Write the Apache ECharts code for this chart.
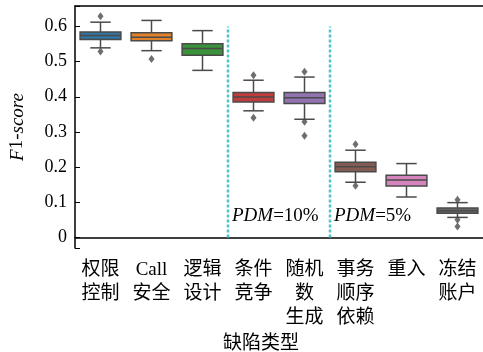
<!DOCTYPE html>
<html>
<head>
<meta charset="utf-8">
<script src="https://cdn.jsdelivr.net/npm/echarts@6/dist/echarts.min.js"></script>
<style>
  html, body { margin: 0; padding: 0; background: #fff; }
  #chart { width: 483px; height: 352px; }
</style>
</head>
<body>
<div id="chart"></div>
<script>
// Defect types on the x axis
const categories = ['权限\n控制', 'Call\n安全', '逻辑\n设计', '条件\n竞争', '随机\n数\n生成', '事务\n顺序\n依赖', '重入', '冻结\n账户'];

// Box statistics of the F1-score per defect type
const whiskerLow  = [0.539, 0.531, 0.475, 0.360, 0.336, 0.157, 0.115, 0.057];
const q1          = [0.563, 0.559, 0.518, 0.385, 0.381, 0.187, 0.146, 0.069];
const median      = [0.574, 0.569, 0.537, 0.399, 0.397, 0.201, 0.163, 0.076];
const q3          = [0.584, 0.582, 0.551, 0.412, 0.412, 0.214, 0.177, 0.084];
const whiskerHigh = [0.612, 0.617, 0.588, 0.447, 0.456, 0.248, 0.210, 0.099];

// Outlying runs: [category index, F1-score]
const outliers = [
  [0, 0.629], [0, 0.529],
  [1, 0.507],
  [3, 0.461], [3, 0.340],
  [4, 0.471], [4, 0.329], [4, 0.289],
  [5, 0.265], [5, 0.147],
  [7, 0.107], [7, 0.050], [7, 0.031]
];

// Group separators and their annotations
const dividers = [2.5, 4.5];
const dividerSpan = [0, 0.6];
const groupNotes = [
  { at: 2.5, y: 0.062, rate: '10%' },
  { at: 4.5, y: 0.062, rate: '5%' }
];

const yTicks = [0, 0.1, 0.2, 0.3, 0.4, 0.5, 0.6];

const boxColors = ['#3274a1', '#e1812c', '#3a923a', '#c03d3e', '#9372b2', '#845b53', '#d684bd', '#666666'];
const edge = '#4a4a4a';
const serif = '"Liberation Serif", "Noto Sans CJK SC", serif';

const boxData = categories.map((c, i) => [i, whiskerLow[i], q1[i], median[i], q3[i], whiskerHigh[i]]);

const chart = echarts.init(document.getElementById('chart'), null, { renderer: 'canvas' });

chart.setOption({
  animation: false,
  backgroundColor: '#fff',
  grid: { left: 69, top: 6, right: -2, bottom: 104 },
  title: {
    text: '缺陷类型',
    left: 218, top: 330,
    textStyle: { fontFamily: serif, fontSize: 19, fontWeight: 'normal', color: '#000' }
  },
  xAxis: [
    {
      type: 'category',
      data: categories,
      boundaryGap: true,
      axisLine: { lineStyle: { color: '#000', width: 1.5 } },
      axisTick: { inside: true, length: 4, alignWithLabel: true, lineStyle: { color: '#000', width: 1 } },
      axisLabel: { interval: 0, margin: 10, fontFamily: serif, fontSize: 19, lineHeight: 24, color: '#000' },
      splitLine: { show: false }
    },
    {
      type: 'value',
      position: 'top',
      min: -0.5, max: 7.5,
      axisLine: { show: true, onZero: false, lineStyle: { color: '#000', width: 1.5 } },
      axisTick: { show: false },
      axisLabel: { show: false },
      splitLine: { show: false }
    }
  ],
  yAxis: {
    type: 'value',
    min: -0.03, max: 0.658,
    splitNumber: 7,
    name: '{i|F}1-{i|score}',
    nameLocation: 'middle',
    nameGap: 48,
    nameRotate: 90,
    nameTextStyle: {
      fontFamily: serif, fontSize: 19, color: '#000',
      rich: { i: { fontFamily: serif, fontSize: 19, fontStyle: 'italic', color: '#000' } }
    },
    axisLine: { show: true, onZero: false, lineStyle: { color: '#000', width: 1.5 } },
    axisTick: { inside: true, length: 5, lineStyle: { color: '#000', width: 1 } },
    axisLabel: {
      margin: 8, fontFamily: serif, fontSize: 18, color: '#000',
      formatter: v => {
        const hit = yTicks.find(t => Math.abs(t - v) < 1e-6);
        return hit === undefined ? '' : (hit === 0 ? '0' : hit.toFixed(1));
      }
    },
    splitLine: { show: false }
  },
  series: [
    {
      type: 'custom',
      xAxisIndex: 0,
      data: boxData,
      z: 3,
      renderItem: (params, api) => {
        const i = api.value(0);
        const w = api.size([1, 0])[0] * 0.8;
        const cap = w / 2;
        const pLow = api.coord([i, api.value(1)]);
        const pQ1 = api.coord([i, api.value(2)]);
        const pMed = api.coord([i, api.value(3)]);
        const pQ3 = api.coord([i, api.value(4)]);
        const pHigh = api.coord([i, api.value(5)]);
        const x = pQ1[0];
        const line = { stroke: edge, lineWidth: 1.5 };
        return {
          type: 'group',
          children: [
            { type: 'line', shape: { x1: x, y1: pQ3[1], x2: x, y2: pHigh[1] }, style: line },
            { type: 'line', shape: { x1: x, y1: pQ1[1], x2: x, y2: pLow[1] }, style: line },
            { type: 'line', shape: { x1: x - cap / 2, y1: pHigh[1], x2: x + cap / 2, y2: pHigh[1] }, style: line },
            { type: 'line', shape: { x1: x - cap / 2, y1: pLow[1], x2: x + cap / 2, y2: pLow[1] }, style: line },
            {
              type: 'rect',
              shape: { x: x - w / 2, y: pQ3[1], width: w, height: pQ1[1] - pQ3[1] },
              style: { fill: boxColors[i], stroke: edge, lineWidth: 1.5 }
            },
            { type: 'line', shape: { x1: x - w / 2, y1: pMed[1], x2: x + w / 2, y2: pMed[1] }, style: line }
          ]
        };
      }
    },
    {
      type: 'scatter',
      xAxisIndex: 0,
      data: outliers,
      symbol: 'diamond',
      symbolSize: [6, 8],
      itemStyle: { color: edge },
      z: 4
    },
    {
      type: 'custom',
      xAxisIndex: 1,
      data: dividers.map(d => [d, dividerSpan[0], dividerSpan[1]]),
      z: 2,
      renderItem: (params, api) => {
        const a = api.coord([api.value(0), api.value(1)]);
        const b = api.coord([api.value(0), api.value(2)]);
        return {
          type: 'line',
          shape: { x1: a[0], y1: a[1], x2: b[0], y2: b[1] },
          style: { stroke: '#4fc4c8', lineWidth: 2.5, lineDash: [3, 2] }
        };
      }
    },
    {
      type: 'custom',
      xAxisIndex: 1,
      data: groupNotes.map(n => [n.at, n.y, n.rate]),
      z: 5,
      renderItem: (params, api) => {
        const p = api.coord([api.value(0), api.value(1)]);
        const note = groupNotes[params.dataIndex];
        return {
          type: 'text',
          x: p[0] + 4, y: p[1],
          style: {
            text: '{i|PDM}=' + note.rate,
            fill: '#000',
            verticalAlign: 'middle',
            align: 'left',
            fontFamily: serif, fontSize: 19,
            rich: { i: { fontFamily: serif, fontSize: 19, fontStyle: 'italic', fill: '#000' } }
          }
        };
      }
    }
  ]
});
</script>
</body>
</html>
